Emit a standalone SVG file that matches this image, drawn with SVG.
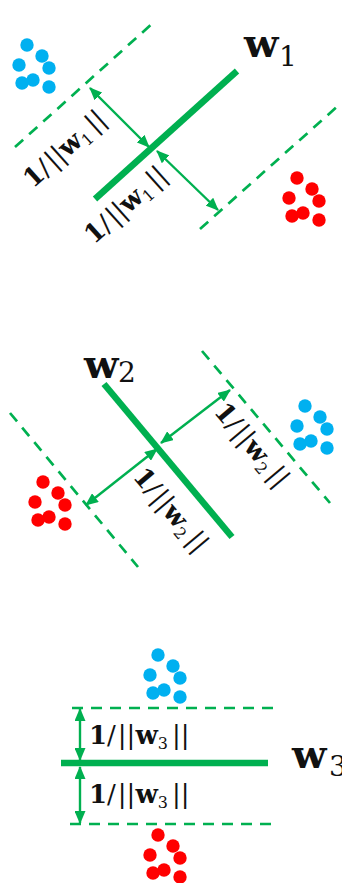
<svg xmlns="http://www.w3.org/2000/svg" width="342" height="883" viewBox="0 0 342 883">
<style>
.hp{stroke:#00B050;stroke-width:6.5;stroke-linecap:butt;fill:none}
.mg{stroke:#00B050;stroke-width:2.7;stroke-dasharray:11 8;fill:none}
.ar{stroke:#00B050;stroke-width:2.4;fill:none;marker-start:url(#ah);marker-end:url(#ah)}
.lab{font-family:"DejaVu Serif","Liberation Serif",serif;font-size:26px;fill:#111}
.b{font-weight:bold}
.sub{font-size:16px}
.wl{font-family:"DejaVu Serif","Liberation Serif",serif;fill:#111}
</style>
<defs>
<marker id="ah" markerUnits="userSpaceOnUse" markerWidth="13" markerHeight="11" refX="12" refY="5.5" orient="auto-start-reverse" viewBox="0 0 13 11">
<path d="M0,0 L13,5.5 L0,11 z" fill="#00B050"/>
</marker>
<g id="dots">
<circle cx="0" cy="0" r="6.7"/><circle cx="15" cy="11" r="6.7"/><circle cx="-8" cy="20" r="6.7"/><circle cx="22" cy="23" r="6.7"/><circle cx="6" cy="35" r="6.7"/><circle cx="-5" cy="38" r="6.7"/><circle cx="22" cy="42" r="6.7"/>
</g>
</defs>

<g id="panel1">
<g id="p1-lines">
<line class="mg" x1="15" y1="147" x2="154" y2="22"/>
<line class="mg" x1="200" y1="229" x2="339" y2="105"/>
<line class="hp" x1="95" y1="199" x2="237" y2="71"/>
</g>
<g id="p1-arrows">
<line class="ar" x1="149" y1="147" x2="90" y2="88"/>
<line class="ar" x1="157" y1="151" x2="218" y2="210"/>
</g>
<use href="#dots" x="27" y="45" fill="#00B0F0"/>
<use href="#dots" x="297" y="178" fill="#FF0000"/>
<text class="wl" x="244" y="57"><tspan class="b" font-size="40">w</tspan><tspan x="279" y="66" font-size="28">1</tspan></text>
<text class="lab" transform="translate(33,189) rotate(-42)"><tspan class="b">1</tspan>/<tspan dx="2">||</tspan><tspan class="b">w</tspan><tspan class="sub" dy="5">1</tspan><tspan dx="4" dy="-5">||</tspan></text>
<text class="lab" transform="translate(94,245) rotate(-42)"><tspan class="b">1</tspan>/<tspan dx="2">||</tspan><tspan class="b">w</tspan><tspan class="sub" dy="5">1</tspan><tspan dx="4" dy="-5">||</tspan></text>
</g>

<g id="panel2">
<g id="p2-lines">
<line class="mg" x1="10" y1="413" x2="138" y2="567"/>
<line class="mg" x1="202" y1="351" x2="330" y2="503"/>
<line class="hp" x1="104" y1="384" x2="232" y2="537"/>
</g>
<g id="p2-arrows">
<line class="ar" x1="161" y1="443" x2="230" y2="390"/>
<line class="ar" x1="157" y1="449" x2="86" y2="505"/>
</g>
<use href="#dots" x="305" y="406" fill="#00B0F0"/>
<use href="#dots" x="43" y="482" fill="#FF0000"/>
<text class="wl" x="84" y="378"><tspan class="b" font-size="40">w</tspan><tspan x="118" y="382" font-size="28">2</tspan></text>
<text class="lab" transform="translate(213,412) rotate(50)"><tspan class="b">1</tspan>/<tspan dx="2">||</tspan><tspan class="b">w</tspan><tspan class="sub" dy="5">2</tspan><tspan dx="4" dy="-5">||</tspan></text>
<text class="lab" transform="translate(132,477) rotate(50)"><tspan class="b">1</tspan>/<tspan dx="2">||</tspan><tspan class="b">w</tspan><tspan class="sub" dy="5">2</tspan><tspan dx="4" dy="-5">||</tspan></text>
</g>

<g id="panel3">
<g id="p3-lines">
<line class="mg" x1="72" y1="708" x2="280" y2="708"/>
<line class="mg" x1="70" y1="824" x2="277" y2="824"/>
<line class="hp" x1="61" y1="763" x2="268" y2="763" stroke-width="7"/>
</g>
<g id="p3-arrows">
<line class="ar" x1="80" y1="709" x2="80" y2="760"/>
<line class="ar" x1="80" y1="767" x2="80" y2="823"/>
</g>
<use href="#dots" x="158" y="655" fill="#00B0F0"/>
<use href="#dots" x="158" y="835" fill="#FF0000"/>
<text class="wl" x="292" y="768"><tspan class="b" font-size="40">w</tspan><tspan x="329" y="776" font-size="28">3</tspan></text>
<text class="lab" x="89" y="744"><tspan class="b">1</tspan>/<tspan dx="2">||</tspan><tspan class="b">w</tspan><tspan class="sub" dy="5">3</tspan><tspan dx="4" dy="-5">||</tspan></text>
<text class="lab" x="89" y="803"><tspan class="b">1</tspan>/<tspan dx="2">||</tspan><tspan class="b">w</tspan><tspan class="sub" dy="5">3</tspan><tspan dx="4" dy="-5">||</tspan></text>
</g>
</svg>
